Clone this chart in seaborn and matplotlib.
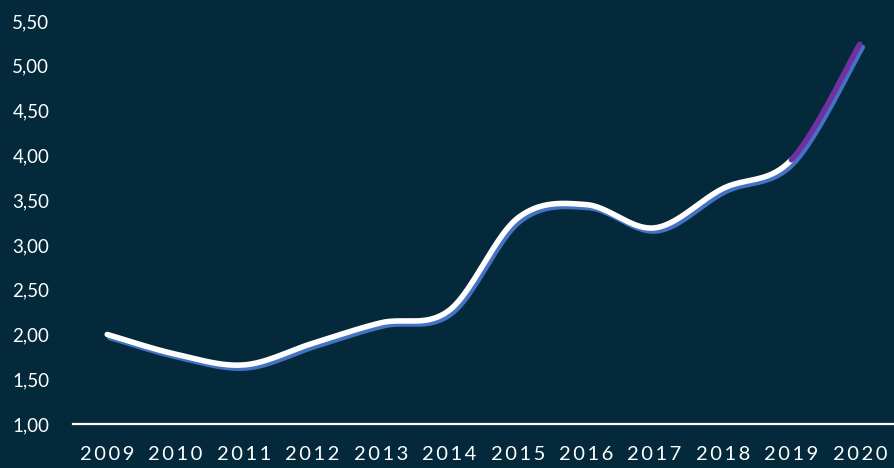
import numpy as np
import pandas as pd
import matplotlib
matplotlib.use("Agg")
import matplotlib.pyplot as plt
import matplotlib.transforms as mtransforms
import seaborn as sns

years = ["2009", "2010", "2011", "2012", "2013", "2014",
         "2015", "2016", "2017", "2018", "2019", "2020"]
values = [2.00, 1.78, 1.66, 1.90, 2.13, 2.27, 3.30, 3.45, 3.19, 3.63, 3.95, 5.24]
y_ticks = [1.0, 1.5, 2.0, 2.5, 3.0, 3.5, 4.0, 4.5, 5.0, 5.5]

BG = "#03293A"
WHITE = "#FFFFFF"
BLUE = "#4472C4"
PURPLE = "#7030A0"


def smooth(xs, ys, n=40):
    """Excel-like smoothed line (Bezier with 1/6 tangents) through the points."""
    xs = np.asarray(xs, float)
    ys = np.asarray(ys, float)
    px = np.concatenate([[xs[0]], xs, [xs[-1]]])
    py = np.concatenate([[ys[0]], ys, [ys[-1]]])
    outx, outy = [], []
    t = np.linspace(0, 1, n)
    for i in range(1, len(px) - 2):
        p0 = np.array([px[i], py[i]])
        p3 = np.array([px[i + 1], py[i + 1]])
        c1 = p0 + (np.array([px[i + 1], py[i + 1]]) - np.array([px[i - 1], py[i - 1]])) / 6
        c2 = p3 - (np.array([px[i + 2], py[i + 2]]) - np.array([px[i], py[i]])) / 6
        b = ((1 - t) ** 3)[:, None] * p0 + (3 * (1 - t) ** 2 * t)[:, None] * c1 \
            + (3 * (1 - t) * t ** 2)[:, None] * c2 + (t ** 3)[:, None] * p3
        if i > 1:
            b = b[1:]
        outx.extend(b[:, 0])
        outy.extend(b[:, 1])
    return np.array(outx), np.array(outy)


sns.set_theme(style="white")
plt.rcParams["font.family"] = ["Lato", "DejaVu Sans"]

fig = plt.figure(figsize=(8.94, 4.68), dpi=100, facecolor=BG)
ax = fig.add_axes([73 / 894, 1 - 424 / 468, 1 - 73 / 894, (424 - 21) / 468])
ax.set_facecolor(BG)

xpos = np.arange(len(years))
sx, sy = smooth(xpos, values)
df_all = pd.DataFrame({"x": sx, "y": sy})

split = 10
df_w = df_all[sx <= split + 1e-9]
df_p = df_all[sx >= split - 1e-9]

shadow = mtransforms.offset_copy(ax.transData, fig=fig, x=2.5, y=-3, units="dots")
lw = 4.0
sns.lineplot(data=df_all, x="x", y="y", sort=False, estimator=None, ax=ax,
             color=BLUE, linewidth=lw, transform=shadow)
sns.lineplot(data=df_w, x="x", y="y", sort=False, estimator=None, ax=ax,
             color=WHITE, linewidth=lw)
sns.lineplot(data=df_p, x="x", y="y", sort=False, estimator=None, ax=ax,
             color=PURPLE, linewidth=lw)
for ln in ax.lines:
    ln.set_solid_capstyle("round")
    ln.set_clip_on(False)

ax.set_xlim(-0.5, len(years) - 0.5)
ax.set_ylim(1.0, 5.5)
ax.set_xticks(xpos)
ax.set_xticklabels(["\u2009".join(y) for y in years])
ax.set_yticks(y_ticks)
ax.set_yticklabels([f"{v:.2f}".replace(".", ",") for v in y_ticks])
ax.set_xlabel("")
ax.set_ylabel("")

ax.tick_params(axis="both", length=0, colors=WHITE)
ax.tick_params(axis="y", pad=17, labelsize=13.5)
ax.tick_params(axis="x", pad=16, labelsize=14.5)

for s in ["top", "right", "left"]:
    ax.spines[s].set_visible(False)
ax.spines["bottom"].set_color(WHITE)
ax.spines["bottom"].set_linewidth(1.6)
ax.grid(False)

fig.savefig("out.png", dpi=100, facecolor=BG)
